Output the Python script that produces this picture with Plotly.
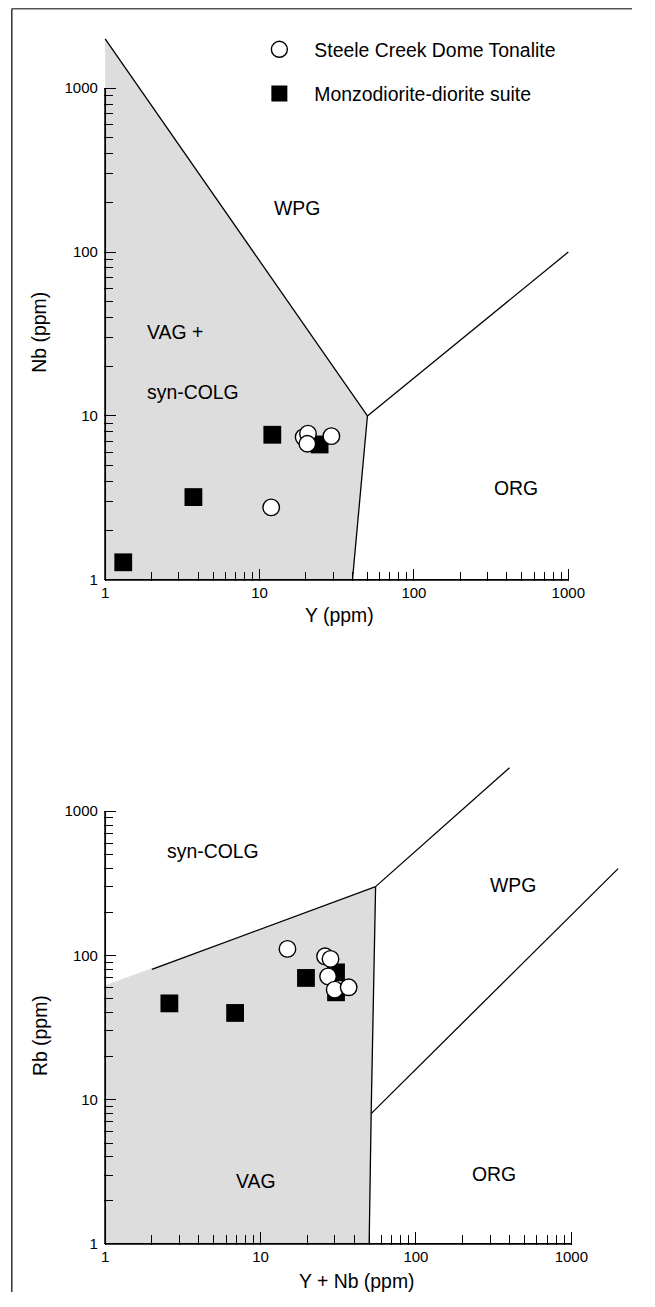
import plotly.graph_objects as go

# The page keeps the browser's default 8px body margin, so the figure is 16px
# smaller than the 655x1307 window in each direction.
OFF = 8
W, H = 655 - 2 * OFF, 1307 - 2 * OFF

# ---------------- data: Nb vs Y ----------------
ton_Y = [11.9, 19.3, 20.6, 20.4, 29.2]
ton_Nb = [2.77, 7.43, 7.8, 6.77, 7.53]
mon_Y = [1.31, 3.73, 12.1, 24.5]
mon_Nb = [1.28, 3.2, 7.68, 6.7]

# field boundaries (Pearce et al. 1984)
nb_wpg_x = [1, 50]
nb_wpg_y = [2000, 10]
nb_org_x = [50, 1000]
nb_org_y = [10, 100]
nb_vo_x = [50, 40]
nb_vo_y = [10, 1]
nb_fill_x = [1, 1, 50, 40, 1]
nb_fill_y = [1, 2000, 10, 1, 1]

# ---------------- data: Rb vs Y+Nb ----------------
ton_YNb = [14.9, 26.0, 28.2, 27.2, 30.0, 36.9]
ton_Rb = [111, 98.6, 94.6, 71.6, 57.9, 60.1]
mon_YNb = [2.59, 6.86, 19.6, 30.6, 30.6]
mon_Rb = [46.5, 39.9, 69.8, 76.3, 55.5]

rb_cv_x = [2, 55]
rb_cv_y = [80, 300]
rb_cw_x = [55, 400]
rb_cw_y = [300, 2000]
rb_vw_x = [55, 51.5]
rb_vw_y = [300, 8]
rb_wo_x = [51.5, 2000]
rb_wo_y = [8, 400]
rb_vo_x = [51.5, 50]
rb_vo_y = [8, 1]
rb_fill_x = [1, 1, 55, 51.5, 50, 1]
rb_fill_y = [1, 62, 300, 8, 1, 1]

major_vals = [1, 10, 100, 1000]
major_text = ["1", "10", "100", "1000"]
minor_vals = [m * d for d in (1, 10, 100) for m in range(2, 10)]

axis_x = [1, 1000]
axis_y = [1, 1]

FILL = "#dddddd"
FONT = "Liberation Sans, Arial, Helvetica, sans-serif"

# observed: photographed pixel = 0.972*page_x + 3.8 , 0.994*page_y
SX, OX, SY, OY = 0.972, 3.8, 0.994, 0.0


def fig_x(X):
    return (X - OX) / SX - OFF


def fig_y(Y):
    return (Y - OY) / SY - OFF


def px(X):
    return fig_x(X) / W


def py(Y):
    return 1 - fig_y(Y) / H


fig = go.Figure()


def add_lines(xs, ys, xa, ya, width=1.3):
    fig.add_trace(go.Scatter(x=xs, y=ys, mode="lines", xaxis=xa, yaxis=ya,
                             line=dict(color="black", width=width),
                             showlegend=False, hoverinfo="skip"))


SQ = dict(symbol="square", size=17.8, color="black", line=dict(width=0))
CI = dict(symbol="circle", size=16.5, color="white", line=dict(width=1.4, color="black"))

# ---- top panel ----
fig.add_trace(go.Scatter(x=nb_fill_x, y=nb_fill_y, mode="lines", fill="toself",
                         fillcolor=FILL, line=dict(width=0), xaxis="x", yaxis="y",
                         showlegend=False, hoverinfo="skip"))
add_lines(nb_wpg_x, nb_wpg_y, "x", "y")
add_lines(nb_org_x, nb_org_y, "x", "y")
add_lines(nb_vo_x, nb_vo_y, "x", "y")
add_lines(axis_x, axis_y, "x", "y", 1.8)
add_lines(axis_y, axis_x, "x", "y", 1.8)

fig.add_trace(go.Scatter(x=mon_Y, y=mon_Nb, mode="markers", xaxis="x", yaxis="y",
                         name="Monzodiorite-diorite suite", legendgroup="b", legendrank=2,
                         marker=SQ, cliponaxis=False))
fig.add_trace(go.Scatter(x=ton_Y, y=ton_Nb, mode="markers", xaxis="x", yaxis="y",
                         name="Steele Creek Dome Tonalite", legendgroup="a", legendrank=1,
                         marker=CI, cliponaxis=False))

# ---- bottom panel ----
fig.add_trace(go.Scatter(x=rb_fill_x, y=rb_fill_y, mode="lines", fill="toself",
                         fillcolor=FILL, line=dict(width=0), xaxis="x2", yaxis="y2",
                         showlegend=False, hoverinfo="skip"))
add_lines(rb_cv_x, rb_cv_y, "x2", "y2")
add_lines(rb_cw_x, rb_cw_y, "x2", "y2")
add_lines(rb_vw_x, rb_vw_y, "x2", "y2")
add_lines(rb_wo_x, rb_wo_y, "x2", "y2")
add_lines(rb_vo_x, rb_vo_y, "x2", "y2")
add_lines(axis_x, axis_y, "x2", "y2", 1.8)
add_lines(axis_y, axis_x, "x2", "y2", 1.8)

fig.add_trace(go.Scatter(x=mon_YNb, y=mon_Rb, mode="markers", xaxis="x2", yaxis="y2",
                         showlegend=False, marker=SQ, cliponaxis=False))
fig.add_trace(go.Scatter(x=ton_YNb, y=ton_Rb, mode="markers", xaxis="x2", yaxis="y2",
                         showlegend=False, marker=CI, cliponaxis=False))


def log_axis(rng, domain, anchor, standoff):
    return dict(type="log", range=rng, domain=domain, anchor=anchor,
                showgrid=False, zeroline=False, showline=False,
                tickmode="array", tickvals=major_vals, ticktext=major_text,
                ticks="inside", ticklen=12.5, tickwidth=1.4, tickcolor="black",
                ticklabelstandoff=standoff,
                tickfont=dict(family=FONT, size=15, color="black"),
                minor=dict(tickmode="array", tickvals=minor_vals, ticks="inside",
                           ticklen=9.5, tickwidth=1.3, tickcolor="black", showgrid=False))


LEG_GAP = 35   # symbol centre -> text start
LEG_TOP = 20   # legend top -> first symbol centre
fig.update_layout(
    width=W, height=H,
    margin=dict(l=0, r=0, t=0, b=0),
    paper_bgcolor="white", plot_bgcolor="rgba(0,0,0,0)",
    font=dict(family=FONT, size=19.4, color="black"),
    xaxis=log_axis([-0.008, 3.01], [px(104.5), px(570.5)], "y", 1),
    yaxis=log_axis([-0.008, 3.31], [py(580.8), py(37.3)], "x", 5),
    xaxis2=log_axis([-0.008, 3.31], [px(104.5), px(620.2)], "y2", 1),
    yaxis2=log_axis([-0.008, 3.32], [py(1244.2), py(764.6)], "x2", 5),
    legend=dict(x=(fig_x(279) - LEG_GAP) / W, y=1 - (fig_y(50) - LEG_TOP) / H,
                xanchor="left", yanchor="top",
                bgcolor="rgba(0,0,0,0)", itemwidth=2 * LEG_GAP - 10, tracegroupgap=16,
                traceorder="grouped", font=dict(family=FONT, size=19.4)),
    showlegend=True,
)

labels = [
    ("WPG", 298, 208, "center"),
    ("VAG +", 146, 332, "left"),
    ("syn-COLG", 146, 392, "left"),
    ("ORG", 517, 488, "center"),
    ("syn-COLG", 214, 850, "center"),
    ("WPG", 514, 884, "center"),
    ("VAG", 257, 1180, "center"),
    ("ORG", 495, 1173, "center"),
    ("Y (ppm)", 340, 615, "center"),
    ("Y + Nb (ppm)", 358, 1280, "center"),
]
for t, x, y, al in labels:
    fig.add_annotation(text=t, x=px(x), y=py(y), xref="paper", yref="paper",
                       xanchor=al, yanchor="middle", showarrow=False,
                       font=dict(family=FONT, size=19.4, color="black"))
for t, x, y in [("Nb (ppm)", 40, 332), ("Rb (ppm)", 40, 1035)]:
    fig.add_annotation(text=t, x=px(x), y=py(y), xref="paper", yref="paper",
                       xanchor="center", yanchor="middle", showarrow=False, textangle=-90,
                       font=dict(family=FONT, size=19.4, color="black"))

# page frame (top and left edges)
fig.add_shape(type="line", xref="paper", yref="paper", x0=0.8 / W, x1=1.0, y0=1 - 0.8 / H, y1=1 - 0.8 / H,
              line=dict(color="#555", width=1.5))
fig.add_shape(type="line", xref="paper", yref="paper", x0=0.8 / W, x1=0.8 / W, y0=1 - 0.8 / H, y1=0.0,
              line=dict(color="#333", width=1.5))

fig.write_html("out.html", config={"displayModeBar": False})
